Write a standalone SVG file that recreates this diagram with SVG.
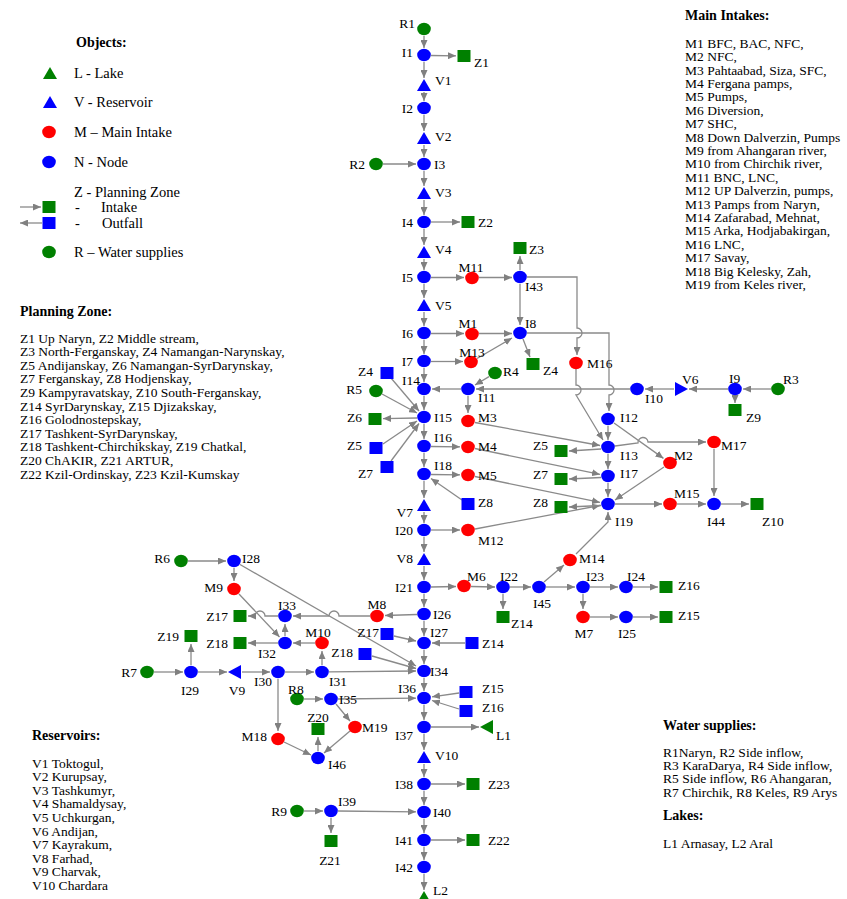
<svg xmlns="http://www.w3.org/2000/svg" width="847" height="899" viewBox="0 0 847 899">
<style>
  text { font-family: "Liberation Serif", "Times New Roman", serif; font-size: 13.5px; fill: #000; }
  .e { fill: none; stroke: #8a8a8a; stroke-width: 1.3; marker-end: url(#ah); }
  .nb { fill: #0000ff; }
  .nr { fill: #ff0000; }
  .ng { fill: #008000; }
  .end { text-anchor: end; }
  .mid { text-anchor: middle; }
  .hd { font-weight: bold; font-size: 14px; }
  .lg { font-size: 14.5px; }
</style>
<defs>
  <marker id="ah" markerWidth="8" markerHeight="7" refX="8" refY="3.5" orient="auto" markerUnits="userSpaceOnUse">
    <path d="M0,0 L8,3.5 L0,7 z" fill="#808080"/>
  </marker>
  <ellipse id="dot" cx="0" cy="0" rx="6.8" ry="6.2"/>
  <rect id="sq" x="-6.5" y="-6" width="13" height="12"/>
  <polygon id="triU" points="-7,6 0,-6 7,6"/>
  <polygon id="triR" points="-6,-7 7,0 -6,7"/>
  <polygon id="triL" points="6,-7 -7,0 6,7"/>
</defs>

<!-- legend: object types -->
<g id="legend-objects">
  <text class="hd" x="76" y="47">Objects:</text>
  <use href="#triU" x="50" y="73" class="ng"/><text class="lg" x="74" y="78">L - Lake</text>
  <use href="#triU" x="50" y="102" class="nb"/><text class="lg" x="74" y="107">V - Reservoir</text>
  <use href="#dot" x="49" y="132" class="nr"/><text class="lg" x="74" y="137">M – Main Intake</text>
  <use href="#dot" x="49" y="162" class="nb"/><text class="lg" x="74" y="167">N - Node</text>
  <text class="lg" x="74" y="197">Z - Planning Zone</text>
  <path class="e" d="M20,207 L41,207"/>
  <use href="#sq" x="49" y="207" class="ng"/><text class="lg" x="75" y="212">-</text><text class="lg" x="101" y="212">Intake</text>
  <path class="e" d="M42,223 L20,223"/>
  <use href="#sq" x="49" y="223" class="nb"/><text class="lg" x="75" y="228">-</text><text class="lg" x="102" y="228">Outfall</text>
  <use href="#dot" x="49" y="252" class="ng"/><text class="lg" x="74" y="257">R – Water supplies</text>
</g>

<g id="legend-intakes">
  <text class="hd" x="685" y="19.5">Main Intakes:</text>
  <text x="685" y="47.8">
    <tspan x="685">M1 BFC, BAC, NFC,</tspan>
    <tspan x="685" dy="13.4">M2 NFC,</tspan>
    <tspan x="685" dy="13.4">M3 Pahtaabad, Siza, SFC,</tspan>
    <tspan x="685" dy="13.4">M4 Fergana pamps,</tspan>
    <tspan x="685" dy="13.4">M5 Pumps,</tspan>
    <tspan x="685" dy="13.4">M6 Diversion,</tspan>
    <tspan x="685" dy="13.4">M7 SHC,</tspan>
    <tspan x="685" dy="13.4">M8 Down Dalverzin, Pumps</tspan>
    <tspan x="685" dy="13.4">M9 from Ahangaran river,</tspan>
    <tspan x="685" dy="13.4">M10 from Chirchik river,</tspan>
    <tspan x="685" dy="13.4">M11 BNC, LNC,</tspan>
    <tspan x="685" dy="13.4">M12 UP Dalverzin, pumps,</tspan>
    <tspan x="685" dy="13.4">M13 Pamps from Naryn,</tspan>
    <tspan x="685" dy="13.4">M14 Zafarabad, Mehnat,</tspan>
    <tspan x="685" dy="13.4">M15 Arka, Hodjabakirgan,</tspan>
    <tspan x="685" dy="13.4">M16 LNC,</tspan>
    <tspan x="685" dy="13.4">M17 Savay,</tspan>
    <tspan x="685" dy="13.4">M18 Big Kelesky, Zah,</tspan>
    <tspan x="685" dy="13.4">M19 from Keles river,</tspan>
  </text>
</g>

<g id="legend-zones">
  <text class="hd" x="20" y="315.5">Planning Zone:</text>
  <text x="20" y="342.5">
    <tspan x="20">Z1 Up Naryn, Z2 Middle stream,</tspan>
    <tspan x="20" dy="13.6">Z3 North-Ferganskay, Z4 Namangan-Narynskay,</tspan>
    <tspan x="20" dy="13.6">Z5 Andijanskay, Z6 Namangan-SyrDarynskay,</tspan>
    <tspan x="20" dy="13.6">Z7 Ferganskay, Z8 Hodjenskay,</tspan>
    <tspan x="20" dy="13.6">Z9 Kampyravatskay, Z10 South-Ferganskay,</tspan>
    <tspan x="20" dy="13.6">Z14 SyrDarynskay, Z15 Djizakskay,</tspan>
    <tspan x="20" dy="13.6">Z16 Golodnostepskay,</tspan>
    <tspan x="20" dy="13.6">Z17 Tashkent-SyrDarynskay,</tspan>
    <tspan x="20" dy="13.6">Z18 Tashkent-Chirchikskay, Z19 Chatkal,</tspan>
    <tspan x="20" dy="13.6">Z20 ChAKIR, Z21 ARTUR,</tspan>
    <tspan x="20" dy="13.6">Z22 Kzil-Ordinskay, Z23 Kzil-Kumskay</tspan>
  </text>
</g>

<g id="legend-reservoirs">
  <text class="hd" x="32" y="739.5">Reservoirs:</text>
  <text x="32" y="767.5">
    <tspan x="32">V1 Toktogul,</tspan>
    <tspan x="32" dy="13.6">V2 Kurupsay,</tspan>
    <tspan x="32" dy="13.6">V3 Tashkumyr,</tspan>
    <tspan x="32" dy="13.6">V4 Shamaldysay,</tspan>
    <tspan x="32" dy="13.6">V5 Uchkurgan,</tspan>
    <tspan x="32" dy="13.6">V6 Andijan,</tspan>
    <tspan x="32" dy="13.6">V7 Kayrakum,</tspan>
    <tspan x="32" dy="13.6">V8 Farhad,</tspan>
    <tspan x="32" dy="13.6">V9 Charvak,</tspan>
    <tspan x="32" dy="13.6">V10 Chardara</tspan>
  </text>
</g>

<g id="legend-supplies">
  <text class="hd" x="663" y="729.5">Water supplies:</text>
  <text x="663" y="756.5">
    <tspan x="663">R1Naryn, R2 Side inflow,</tspan>
    <tspan x="663" dy="13.4">R3 KaraDarya, R4 Side inflow,</tspan>
    <tspan x="663" dy="13.4">R5 Side inflow, R6 Ahangaran,</tspan>
    <tspan x="663" dy="13.4">R7 Chirchik, R8 Keles, R9 Arys</tspan>
  </text>
  <text class="hd" x="663" y="819.5">Lakes:</text>
  <text x="663" y="847.5">L1 Arnasay, L2 Aral</text>
</g>

<!-- connectors -->
<g id="connectors">
  <!-- main stem -->
  <path class="e" d="M424,36 L424,48"/>
  <path class="e" d="M431,55.5 L456,55.8"/>
  <path class="e" d="M424,62 L424,78"/>
  <path class="e" d="M424,92 L424,101"/>
  <path class="e" d="M424,115 L424,131"/>
  <path class="e" d="M424,145 L424,157"/>
  <path class="e" d="M383,164 L416,164"/>
  <path class="e" d="M424,171 L424,186"/>
  <path class="e" d="M424,200 L424,215"/>
  <path class="e" d="M431,222 L460,222"/>
  <path class="e" d="M424,229 L424,245"/>
  <path class="e" d="M424,259 L424,270"/>
  <path class="e" d="M431,277.5 L464,277.5"/>
  <path class="e" d="M479,277.5 L512,277.5"/>
  <path class="e" d="M520,270 L520,256"/>
  <path class="e" d="M520,284 L520,325"/>
  <path class="e" d="M527,277 L577,277 L577,328 A5,5 0 0 1 577,338 L577,355"/>
  <path class="e" d="M424,284 L424,298"/>
  <path class="e" d="M424,312 L424,326"/>
  <path class="e" d="M431,333.5 L464,333.5"/>
  <path class="e" d="M479,333.5 L512,333.5"/>
  <path class="e" d="M527,333 L609,333 L609,385 A5,5 0 0 1 609,395 L609,411"/>
  <path class="e" d="M523,339 L530,357"/>
  <path class="e" d="M424,340 L424,354"/>
  <path class="e" d="M431,361.5 L463,361.5"/>
  <path class="e" d="M477,358.5 L512,338"/>
  <path class="e" d="M424,368 L424,382"/>
  <!-- I10 / I11 / I14 row -->
  <path class="e" d="M771,389 L743,389"/>
  <path class="e" d="M735,396 L735,403"/>
  <path class="e" d="M728,389 L689,389"/>
  <path class="e" d="M674,389 L645,389"/>
  <path class="e" d="M630,389 L476,389"/>
  <path class="e" d="M461,389 L432,389"/>
  <path class="e" d="M489,376.6 L475,385"/>
  <path class="e" d="M468,396 L468,413"/>
  <!-- into I15 -->
  <path class="e" d="M424,396 L424,410"/>
  <path class="e" d="M391,378 L419,411"/>
  <path class="e" d="M382,394 L417,413"/>
  <path class="e" d="M417,418 L383,418.6"/>
  <path class="e" d="M383,444 L417,421"/>
  <path class="e" d="M391,461 L419,423.5"/>
  <path class="e" d="M424,424 L424,439"/>
  <path class="e" d="M431,446.5 L460,446.8"/>
  <path class="e" d="M424,453 L424,467"/>
  <path class="e" d="M431,474.5 L460,474.8"/>
  <path class="e" d="M462,500 L431,478.5"/>
  <path class="e" d="M424,481 L424,498"/>
  <path class="e" d="M424,512 L424,523"/>
  <path class="e" d="M431,530 L460,530"/>
  <path class="e" d="M424,537 L424,552"/>
  <path class="e" d="M424,566 L424,580"/>
  <!-- toward I13 / I17 / I19 -->
  <path class="e" d="M576,369 L576,385 A5,5 0 0 1 576,395 L603,440"/>
  <path class="e" d="M608,426 L608,440"/>
  <path class="e" d="M614,423 L663.5,458.4"/>
  <path class="e" d="M475,422.5 L600,445.5"/>
  <path class="e" d="M475,448.5 L600,474.4"/>
  <path class="e" d="M475,476.5 L600,502.4"/>
  <path class="e" d="M475,529 L600,505.5"/>
  <path class="e" d="M601,449 L569,451"/>
  <path class="e" d="M601,477.5 L569,479"/>
  <path class="e" d="M601,505.5 L569,507"/>
  <path class="e" d="M608,454 L608,469"/>
  <path class="e" d="M608,483 L608,497"/>
  <path class="e" d="M664,467 L615,500"/>
  <path class="e" d="M615,446 L638,443 A5,5 0 0 1 648,442 L706,442"/>
  <path class="e" d="M714,449 L714,496"/>
  <path class="e" d="M615,504 L662,504"/>
  <path class="e" d="M677,504 L706,504"/>
  <path class="e" d="M721,504 L749,504"/>
  <path class="e" d="M576,554 L608,522 L608,512"/>
  <!-- I21 row -->
  <path class="e" d="M431,587 L456,586.5"/>
  <path class="e" d="M471,586.5 L495,587"/>
  <path class="e" d="M510,587 L531,587"/>
  <path class="e" d="M503,594 L503,609"/>
  <path class="e" d="M544,582 L564,565"/>
  <path class="e" d="M546,587 L575,587"/>
  <path class="e" d="M590,587 L618,587"/>
  <path class="e" d="M633,587 L658,587"/>
  <path class="e" d="M583,594 L583,609"/>
  <path class="e" d="M590,617 L618,617"/>
  <path class="e" d="M633,617 L658,617"/>
  <!-- lower stem -->
  <path class="e" d="M424,594 L424,607"/>
  <path class="e" d="M417,614.5 L385,615.5"/>
  <path class="e" d="M370,616 L339,616 A5,5 0 0 0 329,616 L293,616"/>
  <path class="e" d="M424,621 L424,636"/>
  <path class="e" d="M394,636 L416,641"/>
  <path class="e" d="M465,643 L432,643"/>
  <path class="e" d="M424,650 L424,664"/>
  <path class="e" d="M372,656 L416,668.5"/>
  <path class="e" d="M240,564.5 L416,666"/>
  <path class="e" d="M329,671.8 L416,671"/>
  <path class="e" d="M424,678 L424,691"/>
  <path class="e" d="M338,699 L416,698.2"/>
  <path class="e" d="M459,693 L432,696.8"/>
  <path class="e" d="M459,709 L432,700.5"/>
  <path class="e" d="M424,705 L424,720"/>
  <path class="e" d="M431,727 L479,727"/>
  <path class="e" d="M424,734 L424,750"/>
  <path class="e" d="M424,764 L424,777"/>
  <path class="e" d="M431,784 L465,784"/>
  <path class="e" d="M424,791 L424,805"/>
  <path class="e" d="M304,811 L323,811"/>
  <path class="e" d="M338,811 L416,811.8"/>
  <path class="e" d="M331,818 L331,833"/>
  <path class="e" d="M424,819 L424,833"/>
  <path class="e" d="M431,840 L465,840"/>
  <path class="e" d="M424,847 L424,860"/>
  <path class="e" d="M424,874 L424,890"/>
  <!-- Chirchik / Ahangaran branch -->
  <path class="e" d="M188,561 L226,561"/>
  <path class="e" d="M234,568 L234,581"/>
  <path class="e" d="M239,594 L279.5,637"/>
  <path class="e" d="M278,616 L265,616 A5,5 0 0 0 255,616 L248,616"/>
  <path class="e" d="M285,636 L285,624"/>
  <path class="e" d="M315,643 L293,643"/>
  <path class="e" d="M278,643 L248,643"/>
  <path class="e" d="M322,665 L322,651"/>
  <path class="e" d="M154,672 L183,672"/>
  <path class="e" d="M191,665 L191,644"/>
  <path class="e" d="M198,672 L227,672"/>
  <path class="e" d="M242,672 L270,672"/>
  <path class="e" d="M285,672 L314,672"/>
  <path class="e" d="M278,679 L278,731"/>
  <path class="e" d="M284,742 L311,755"/>
  <path class="e" d="M304,699 L323,699"/>
  <path class="e" d="M336,704 L350,721"/>
  <path class="e" d="M350,731 L324,753"/>
  <path class="e" d="M318,751 L318,737"/>
</g>

<!-- nodes -->
<g id="R1"><use href="#dot" x="424" y="29" class="ng"/><text class="end" x="415" y="27.5">R1</text></g>
<g id="I1"><use href="#dot" x="424" y="55" class="nb"/><text class="end" x="413" y="57">I1</text></g>
<g id="Z1"><use href="#sq" x="464" y="56" class="ng"/><text x="474" y="66.5">Z1</text></g>
<g id="V1"><use href="#triU" x="424" y="85" class="nb"/><text x="435" y="84.5">V1</text></g>
<g id="I2"><use href="#dot" x="424" y="108" class="nb"/><text class="end" x="413" y="112.5">I2</text></g>
<g id="V2"><use href="#triU" x="424" y="138" class="nb"/><text x="435" y="140.5">V2</text></g>
<g id="R2"><use href="#dot" x="376" y="164" class="ng"/><text class="end" x="365" y="168.5">R2</text></g>
<g id="I3"><use href="#dot" x="424" y="164" class="nb"/><text x="434" y="168.5">I3</text></g>
<g id="V3"><use href="#triU" x="424" y="193" class="nb"/><text x="435" y="196.5">V3</text></g>
<g id="I4"><use href="#dot" x="424" y="222" class="nb"/><text class="end" x="413" y="226.5">I4</text></g>
<g id="Z2"><use href="#sq" x="468" y="222" class="ng"/><text x="478" y="226.5">Z2</text></g>
<g id="V4"><use href="#triU" x="424" y="252" class="nb"/><text x="435" y="253.5">V4</text></g>
<g id="Z3"><use href="#sq" x="520" y="248" class="ng"/><text x="529" y="253.5">Z3</text></g>
<g id="I5"><use href="#dot" x="424" y="277" class="nb"/><text class="end" x="413" y="281.5">I5</text></g>
<g id="M11"><use href="#dot" x="472" y="278" class="nr"/><text class="mid" x="471" y="271.5">M11</text></g>
<g id="I43"><use href="#dot" x="520" y="277" class="nb"/><text x="525" y="290.5">I43</text></g>
<g id="V5"><use href="#triU" x="424" y="305" class="nb"/><text x="435" y="309.5">V5</text></g>
<g id="I6"><use href="#dot" x="424" y="333" class="nb"/><text class="end" x="413" y="337.5">I6</text></g>
<g id="M1"><use href="#dot" x="472" y="334" class="nr"/><text class="mid" x="468" y="327.5">M1</text></g>
<g id="I8"><use href="#dot" x="520" y="333" class="nb"/><text x="525" y="327.5">I8</text></g>
<g id="I7"><use href="#dot" x="424" y="361" class="nb"/><text class="end" x="413" y="365.5">I7</text></g>
<g id="M13"><use href="#dot" x="471" y="362" class="nr"/><text class="mid" x="472" y="356.5">M13</text></g>
<g id="Z4-intake"><use href="#sq" x="533" y="364" class="ng"/><text x="543" y="374.5">Z4</text></g>
<g id="M16"><use href="#dot" x="576" y="363" class="nr"/><text x="587" y="367.5">M16</text></g>
<g id="Z4-outfall"><use href="#sq" x="387" y="373" class="nb"/><text class="end" x="373" y="375.5">Z4</text></g>
<g id="R4"><use href="#dot" x="495" y="373" class="ng"/><text x="503" y="375.5">R4</text></g>
<g id="I14"><use href="#dot" x="424" y="389" class="nb"/><text class="end" x="420" y="384.5">I14</text></g>
<g id="R5"><use href="#dot" x="376" y="391" class="ng"/><text class="end" x="362" y="393.5">R5</text></g>
<g id="I11"><use href="#dot" x="468" y="389" class="nb"/><text x="478" y="401.5">I11</text></g>
<g id="I10"><use href="#dot" x="637" y="389" class="nb"/><text x="645" y="402.5">I10</text></g>
<g id="V6"><use href="#triR" x="681" y="389" class="nb"/><text x="682" y="383.5">V6</text></g>
<g id="I9"><use href="#dot" x="735" y="389" class="nb"/><text x="729" y="382.5">I9</text></g>
<g id="R3"><use href="#dot" x="778" y="389" class="ng"/><text x="783" y="383.5">R3</text></g>
<g id="Z9"><use href="#sq" x="735" y="410" class="ng"/><text x="746" y="421.5">Z9</text></g>
<g id="I15"><use href="#dot" x="424" y="417" class="nb"/><text x="434" y="421.5">I15</text></g>
<g id="Z6"><use href="#sq" x="375" y="419" class="ng"/><text class="end" x="362" y="421.5">Z6</text></g>
<g id="M3"><use href="#dot" x="468" y="421" class="nr"/><text x="478" y="421.5">M3</text></g>
<g id="I12"><use href="#dot" x="608" y="419" class="nb"/><text x="620" y="421.5">I12</text></g>
<g id="I16"><use href="#dot" x="424" y="446" class="nb"/><text x="434" y="441.5">I16</text></g>
<g id="M4"><use href="#dot" x="468" y="447" class="nr"/><text x="478" y="450.5">M4</text></g>
<g id="Z5-outfall"><use href="#sq" x="376" y="448" class="nb"/><text class="end" x="362" y="449.5">Z5</text></g>
<g id="I13"><use href="#dot" x="608" y="447" class="nb"/><text x="620" y="459.5">I13</text></g>
<g id="M17"><use href="#dot" x="714" y="442" class="nr"/><text x="721" y="449.5">M17</text></g>
<g id="Z5-intake"><use href="#sq" x="561" y="451" class="ng"/><text class="end" x="548" y="449.5">Z5</text></g>
<g id="M2"><use href="#dot" x="670" y="463" class="nr"/><text x="674" y="459.5">M2</text></g>
<g id="Z7-outfall"><use href="#sq" x="387" y="467" class="nb"/><text class="end" x="373" y="477.5">Z7</text></g>
<g id="I18"><use href="#dot" x="424" y="474" class="nb"/><text x="434" y="469.5">I18</text></g>
<g id="M5"><use href="#dot" x="468" y="475" class="nr"/><text x="478" y="479.5">M5</text></g>
<g id="I17"><use href="#dot" x="608" y="476" class="nb"/><text x="620" y="477.5">I17</text></g>
<g id="Z7-intake"><use href="#sq" x="561" y="479" class="ng"/><text class="end" x="548" y="478.5">Z7</text></g>
<g id="Z8-outfall"><use href="#sq" x="468" y="504" class="nb"/><text x="478" y="506.5">Z8</text></g>
<g id="I19"><use href="#dot" x="608" y="504" class="nb"/><text x="615" y="525.5">I19</text></g>
<g id="M15"><use href="#dot" x="670" y="504" class="nr"/><text x="674" y="497.5">M15</text></g>
<g id="I44"><use href="#dot" x="714" y="504" class="nb"/><text class="mid" x="716" y="525.5">I44</text></g>
<g id="Z10"><use href="#sq" x="757" y="504" class="ng"/><text x="762" y="525.5">Z10</text></g>
<g id="V7"><use href="#triU" x="424" y="505" class="nb"/><text class="end" x="413" y="516.5">V7</text></g>
<g id="Z8-intake"><use href="#sq" x="561" y="507" class="ng"/><text class="end" x="548" y="506.5">Z8</text></g>
<g id="I20"><use href="#dot" x="424" y="530" class="nb"/><text class="end" x="413" y="534.5">I20</text></g>
<g id="M12"><use href="#dot" x="468" y="530" class="nr"/><text x="478" y="544.5">M12</text></g>
<g id="V8"><use href="#triU" x="424" y="559" class="nb"/><text class="end" x="413" y="562.5">V8</text></g>
<g id="M14"><use href="#dot" x="570" y="560" class="nr"/><text x="579" y="562.5">M14</text></g>
<g id="I21"><use href="#dot" x="424" y="587" class="nb"/><text class="end" x="413" y="591.5">I21</text></g>
<g id="M6"><use href="#dot" x="464" y="586" class="nr"/><text x="467" y="580.5">M6</text></g>
<g id="I22"><use href="#dot" x="503" y="587" class="nb"/><text x="500" y="580.5">I22</text></g>
<g id="I45"><use href="#dot" x="539" y="587" class="nb"/><text class="mid" x="542" y="607.5">I45</text></g>
<g id="I23"><use href="#dot" x="583" y="587" class="nb"/><text x="586" y="580.5">I23</text></g>
<g id="I24"><use href="#dot" x="626" y="587" class="nb"/><text x="627" y="580.5">I24</text></g>
<g id="Z16-intake"><use href="#sq" x="666" y="587" class="ng"/><text x="678" y="589.5">Z16</text></g>
<g id="I26"><use href="#dot" x="424" y="614" class="nb"/><text x="433" y="618.5">I26</text></g>
<g id="M8"><use href="#dot" x="377" y="616" class="nr"/><text class="mid" x="377" y="608.5">M8</text></g>
<g id="Z14-intake"><use href="#sq" x="503" y="617" class="ng"/><text x="511" y="627.5">Z14</text></g>
<g id="M7"><use href="#dot" x="583" y="617" class="nr"/><text class="mid" x="584" y="637.5">M7</text></g>
<g id="I25"><use href="#dot" x="626" y="617" class="nb"/><text class="mid" x="627" y="637.5">I25</text></g>
<g id="Z15-intake"><use href="#sq" x="666" y="617" class="ng"/><text x="678" y="619.5">Z15</text></g>
<g id="Z17-outfall"><use href="#sq" x="387" y="634" class="nb"/><text class="end" x="379" y="636.5">Z17</text></g>
<g id="I27"><use href="#dot" x="424" y="643" class="nb"/><text x="430" y="636.5">I27</text></g>
<g id="Z14-outfall"><use href="#sq" x="472" y="643" class="nb"/><text x="482" y="647.5">Z14</text></g>
<g id="Z18-outfall"><use href="#sq" x="365" y="654" class="nb"/><text class="end" x="353" y="657">Z18</text></g>
<g id="I34"><use href="#dot" x="424" y="671" class="nb"/><text x="430" y="675.5">I34</text></g>
<g id="I36"><use href="#dot" x="424" y="698" class="nb"/><text class="end" x="416" y="692.5">I36</text></g>
<g id="Z15-outfall"><use href="#sq" x="466" y="692" class="nb"/><text x="482" y="692.5">Z15</text></g>
<g id="Z16-outfall"><use href="#sq" x="466" y="711" class="nb"/><text x="482" y="711.5">Z16</text></g>
<g id="I37"><use href="#dot" x="424" y="727" class="nb"/><text class="end" x="413" y="739.5">I37</text></g>
<g id="L1"><use href="#triL" x="487" y="727" class="ng"/><text x="496" y="739.5">L1</text></g>
<g id="V10"><use href="#triU" x="424" y="757" class="nb"/><text x="435" y="759.5">V10</text></g>
<g id="I38"><use href="#dot" x="424" y="784" class="nb"/><text class="end" x="413" y="788.5">I38</text></g>
<g id="Z23"><use href="#sq" x="473" y="784" class="ng"/><text x="488" y="788.5">Z23</text></g>
<g id="I40"><use href="#dot" x="424" y="812" class="nb"/><text x="433" y="816.5">I40</text></g>
<g id="I41"><use href="#dot" x="424" y="840" class="nb"/><text class="end" x="413" y="844.5">I41</text></g>
<g id="Z22"><use href="#sq" x="473" y="840" class="ng"/><text x="488" y="844.5">Z22</text></g>
<g id="I42"><use href="#dot" x="424" y="867" class="nb"/><text class="end" x="413" y="871.5">I42</text></g>
<g id="L2"><use href="#triU" x="424" y="897" class="ng"/><text x="433" y="895">L2</text></g>

<g id="R6"><use href="#dot" x="181" y="561" class="ng"/><text class="end" x="170" y="562.5">R6</text></g>
<g id="I28"><use href="#dot" x="234" y="561" class="nb"/><text x="242" y="562.5">I28</text></g>
<g id="M9"><use href="#dot" x="234" y="589" class="nr"/><text class="end" x="223" y="591.5">M9</text></g>
<g id="I33"><use href="#dot" x="285" y="616" class="nb"/><text class="mid" x="287" y="609.5">I33</text></g>
<g id="Z17-intake"><use href="#sq" x="240" y="616" class="ng"/><text class="end" x="228" y="620.5">Z17</text></g>
<g id="Z19"><use href="#sq" x="191" y="636" class="ng"/><text class="end" x="179" y="640.5">Z19</text></g>
<g id="Z18-intake"><use href="#sq" x="240" y="643" class="ng"/><text class="end" x="228" y="647.5">Z18</text></g>
<g id="I32"><use href="#dot" x="285" y="643" class="nb"/><text class="end" x="276" y="657.5">I32</text></g>
<g id="M10"><use href="#dot" x="322" y="643" class="nr"/><text class="mid" x="318" y="636.5">M10</text></g>
<g id="R7"><use href="#dot" x="147" y="672" class="ng"/><text class="end" x="137" y="676.5">R7</text></g>
<g id="I29"><use href="#dot" x="191" y="672" class="nb"/><text class="mid" x="190" y="694.5">I29</text></g>
<g id="V9"><use href="#triL" x="235" y="672" class="nb"/><text class="mid" x="237" y="694.5">V9</text></g>
<g id="I30"><use href="#dot" x="278" y="672" class="nb"/><text class="end" x="272" y="685.5">I30</text></g>
<g id="I31"><use href="#dot" x="322" y="672" class="nb"/><text x="329" y="685.5">I31</text></g>
<g id="R8"><use href="#dot" x="297" y="699" class="ng"/><text class="mid" x="296" y="693.5">R8</text></g>
<g id="I35"><use href="#dot" x="331" y="699" class="nb"/><text x="339" y="703.5">I35</text></g>
<g id="M19"><use href="#dot" x="355" y="727" class="nr"/><text x="362" y="731.5">M19</text></g>
<g id="Z20"><use href="#sq" x="318" y="729" class="ng"/><text class="mid" x="318" y="721.5">Z20</text></g>
<g id="M18"><use href="#dot" x="278" y="739" class="nr"/><text class="end" x="267" y="740.5">M18</text></g>
<g id="I46"><use href="#dot" x="318" y="758" class="nb"/><text x="328" y="768.5">I46</text></g>
<g id="R9"><use href="#dot" x="297" y="811" class="ng"/><text class="end" x="287" y="815.5">R9</text></g>
<g id="I39"><use href="#dot" x="331" y="811" class="nb"/><text x="338" y="805.5">I39</text></g>
<g id="Z21"><use href="#sq" x="331" y="841" class="ng"/><text class="mid" x="330" y="864.5">Z21</text></g>
</svg>
